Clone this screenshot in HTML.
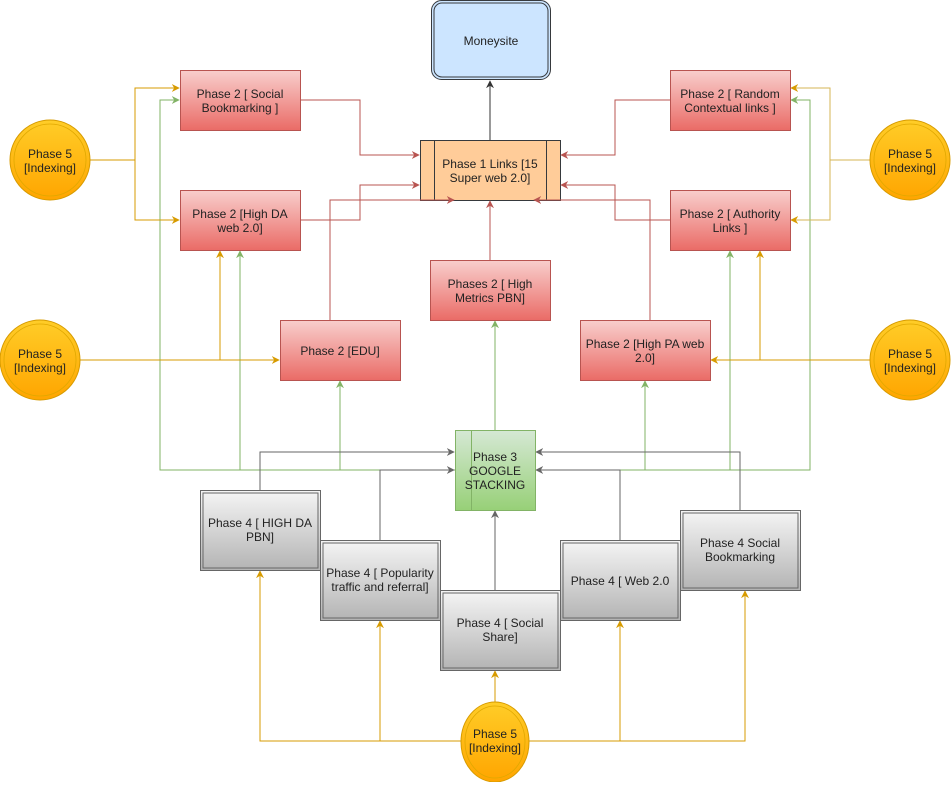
<!DOCTYPE html>
<html><head><meta charset="utf-8"><style>
html,body{margin:0;padding:0;background:#fff;}
svg text{font-family:"Liberation Sans",Arial,sans-serif;font-size:12px;fill:#222;text-anchor:middle;}
</style></head><body>
<svg width="951" height="782" viewBox="0 0 951 782" xmlns="http://www.w3.org/2000/svg">
<defs>
<linearGradient id="red" x1="0" y1="0" x2="0" y2="1"><stop offset="0" stop-color="#f8cecc"/><stop offset="1" stop-color="#ea6b66"/></linearGradient>
<linearGradient id="gray" x1="0" y1="0" x2="0" y2="1"><stop offset="0" stop-color="#f5f5f5"/><stop offset="1" stop-color="#b3b3b3"/></linearGradient>
<linearGradient id="green" x1="0" y1="0" x2="0" y2="1"><stop offset="0" stop-color="#d5e8d4"/><stop offset="1" stop-color="#97d077"/></linearGradient>
<linearGradient id="gold" x1="0" y1="0" x2="0" y2="1"><stop offset="0" stop-color="#ffcd28"/><stop offset="1" stop-color="#ffa500"/></linearGradient>
<marker id="aY" viewBox="0 0 10 10" refX="9" refY="5" markerWidth="8" markerHeight="8" orient="auto" markerUnits="userSpaceOnUse"><path d="M0,0 L10,5 L0,10 L3,5 z" fill="#d79b00"/></marker>
<marker id="aG" viewBox="0 0 10 10" refX="9" refY="5" markerWidth="8" markerHeight="8" orient="auto" markerUnits="userSpaceOnUse"><path d="M0,0 L10,5 L0,10 L3,5 z" fill="#82b366"/></marker>
<marker id="aR" viewBox="0 0 10 10" refX="9" refY="5" markerWidth="8" markerHeight="8" orient="auto" markerUnits="userSpaceOnUse"><path d="M0,0 L10,5 L0,10 L3,5 z" fill="#b85450"/></marker>
<marker id="aK" viewBox="0 0 10 10" refX="9" refY="5" markerWidth="8" markerHeight="8" orient="auto" markerUnits="userSpaceOnUse"><path d="M0,0 L10,5 L0,10 L3,5 z" fill="#666"/></marker>
<marker id="aD" viewBox="0 0 10 10" refX="9" refY="5" markerWidth="8" markerHeight="8" orient="auto" markerUnits="userSpaceOnUse"><path d="M0,0 L10,5 L0,10 L3,5 z" fill="#333"/></marker>
</defs>

<!-- Phase 1 -->
<rect x="420.5" y="140.5" width="140" height="60" fill="#ffcc99" stroke="#36393d"/>
<line x1="434.5" y1="140" x2="434.5" y2="200" stroke="#36393d"/>
<line x1="546.5" y1="140" x2="546.5" y2="200" stroke="#36393d"/>
<text x="490" y="168">Phase 1 Links [15</text><text x="490" y="182">Super web 2.0]</text>

<g fill="none" stroke-width="1">
<g stroke="#82b366">
<path d="M455,470 H160 V100 H179" marker-end="url(#aG)"/>
<path d="M240,470 V251" marker-end="url(#aG)"/>
<path d="M340,470 V381" marker-end="url(#aG)"/>
<path d="M535,470 H810 V100 H791" marker-end="url(#aG)"/>
<path d="M730,470 V251" marker-end="url(#aG)"/>
<path d="M645,470 V381" marker-end="url(#aG)"/>
<path d="M495,430 V321" marker-end="url(#aG)"/>
</g>
<g stroke="#d79b00">
<path d="M90,160 H135 V88 H179" marker-end="url(#aY)"/>
<path d="M135,160 V220 H179" marker-end="url(#aY)"/>
<path d="M80,360 H279" marker-end="url(#aY)"/>
<path d="M220,360 V251" marker-end="url(#aY)"/>
<path d="M870,360 H711" marker-end="url(#aY)"/>
<path d="M760,360 V251" marker-end="url(#aY)"/>
<path d="M461,741 H260 V571" marker-end="url(#aY)"/>
<path d="M380,741 V621" marker-end="url(#aY)"/>
<path d="M495,702 V671" marker-end="url(#aY)"/>
<path d="M529,741 H745 V591" marker-end="url(#aY)"/>
<path d="M620,741 V621" marker-end="url(#aY)"/>
</g>
<g stroke="#d6b656">
<path d="M870,160 H830 V88 H791" marker-end="url(#aY)"/>
<path d="M830,160 V220 H791" marker-end="url(#aY)"/>
</g>
<g stroke="#b85450">
<path d="M300,100 H360 V155 H419" marker-end="url(#aR)"/>
<path d="M300,220 H360 V185 H419" marker-end="url(#aR)"/>
<path d="M330,320 V200 H454" marker-end="url(#aR)"/>
<path d="M490,260 V201" marker-end="url(#aR)"/>
<path d="M670,100 H615 V155 H561" marker-end="url(#aR)"/>
<path d="M670,220 H615 V185 H561" marker-end="url(#aR)"/>
<path d="M650,320 V200 H534" marker-end="url(#aR)"/>
</g>
<path d="M490,140 V81" stroke="#333" marker-end="url(#aD)"/>
<g stroke="#666">
<path d="M260,490 V452 H454" marker-end="url(#aK)"/>
<path d="M380,540 V470 H454" marker-end="url(#aK)"/>
<path d="M495,590 V511" marker-end="url(#aK)"/>
<path d="M620,540 V470 H536" marker-end="url(#aK)"/>
<path d="M740,510 V452 H536" marker-end="url(#aK)"/>
</g>
</g>

<rect x="431.5" y="0.5" width="119" height="79" rx="10" fill="#cce5ff" stroke="#36393d"/>
<rect x="434" y="3" width="114" height="74" rx="8" fill="none" stroke="#36393d"/>
<text x="491" y="45">Moneysite</text>

<g fill="url(#red)" stroke="#b85450">
<rect x="180.5" y="70.5" width="120" height="60"/>
<rect x="180.5" y="190.5" width="120" height="60"/>
<rect x="670.5" y="70.5" width="120" height="60"/>
<rect x="670.5" y="190.5" width="120" height="60"/>
<rect x="430.5" y="260.5" width="120" height="60"/>
<rect x="280.5" y="320.5" width="120" height="60"/>
<rect x="580.5" y="320.5" width="130" height="60"/>
</g>
<text x="240" y="98">Phase 2 [ Social</text><text x="240" y="112">Bookmarking ]</text>
<text x="240" y="218">Phase 2 [High DA</text><text x="240" y="232">web 2.0]</text>
<text x="730" y="98">Phase 2 [ Random</text><text x="730" y="112">Contextual links ]</text>
<text x="730" y="218">Phase 2 [ Authority</text><text x="730" y="232">Links ]</text>
<text x="490" y="288">Phases 2 [ High</text><text x="490" y="302">Metrics PBN]</text>
<text x="340" y="355">Phase 2 [EDU]</text>
<text x="645" y="348">Phase 2 [High PA web</text><text x="645" y="362">2.0]</text>

<rect x="455.5" y="430.5" width="80" height="80" fill="url(#green)" stroke="#82b366"/>
<line x1="471.5" y1="430" x2="471.5" y2="510" stroke="#82b366"/>
<text x="495" y="461">Phase 3</text><text x="495" y="475">GOOGLE</text><text x="495" y="489">STACKING</text>

<g fill="url(#gray)" stroke="#666">
<rect x="200.5" y="490.5" width="120" height="80"/>
<rect x="320.5" y="540.5" width="120" height="80"/>
<rect x="440.5" y="590.5" width="120" height="80"/>
<rect x="560.5" y="540.5" width="120" height="80"/>
<rect x="680.5" y="510.5" width="120" height="80"/>
</g>
<g fill="none" stroke="#666">
<rect x="203" y="493" width="115" height="75"/>
<rect x="323" y="543" width="115" height="75"/>
<rect x="443" y="593" width="115" height="75"/>
<rect x="563" y="543" width="115" height="75"/>
<rect x="683" y="513" width="115" height="75"/>
</g>
<text x="260" y="527">Phase 4 [ HIGH DA</text><text x="260" y="541">PBN]</text>
<text x="380" y="577">Phase 4 [ Popularity</text><text x="380" y="591">traffic and referral]</text>
<text x="500" y="627">Phase 4 [ Social</text><text x="500" y="641">Share]</text>
<text x="620" y="585">Phase 4 [ Web 2.0</text>
<text x="740" y="547">Phase 4 Social</text><text x="740" y="561">Bookmarking</text>

<g fill="url(#gold)" stroke="#d79b00">
<circle cx="50" cy="160" r="40"/>
<circle cx="40" cy="360" r="40"/>
<circle cx="910" cy="160" r="40"/>
<circle cx="910" cy="360" r="40"/>
<ellipse cx="495" cy="742" rx="34" ry="40"/>
</g>
<g fill="none" stroke="#e0a800" stroke-width="0.8">
<circle cx="50" cy="160" r="36"/>
<circle cx="40" cy="360" r="36"/>
<circle cx="910" cy="160" r="36"/>
<circle cx="910" cy="360" r="36"/>
<ellipse cx="495" cy="742" rx="30" ry="36"/>
</g>
<text x="50" y="158">Phase 5</text><text x="50" y="172">[Indexing]</text>
<text x="40" y="358">Phase 5</text><text x="40" y="372">[Indexing]</text>
<text x="910" y="158">Phase 5</text><text x="910" y="172">[Indexing]</text>
<text x="910" y="358">Phase 5</text><text x="910" y="372">[Indexing]</text>
<text x="495" y="738">Phase 5</text><text x="495" y="752">[Indexing]</text>
</svg>
</body></html>
